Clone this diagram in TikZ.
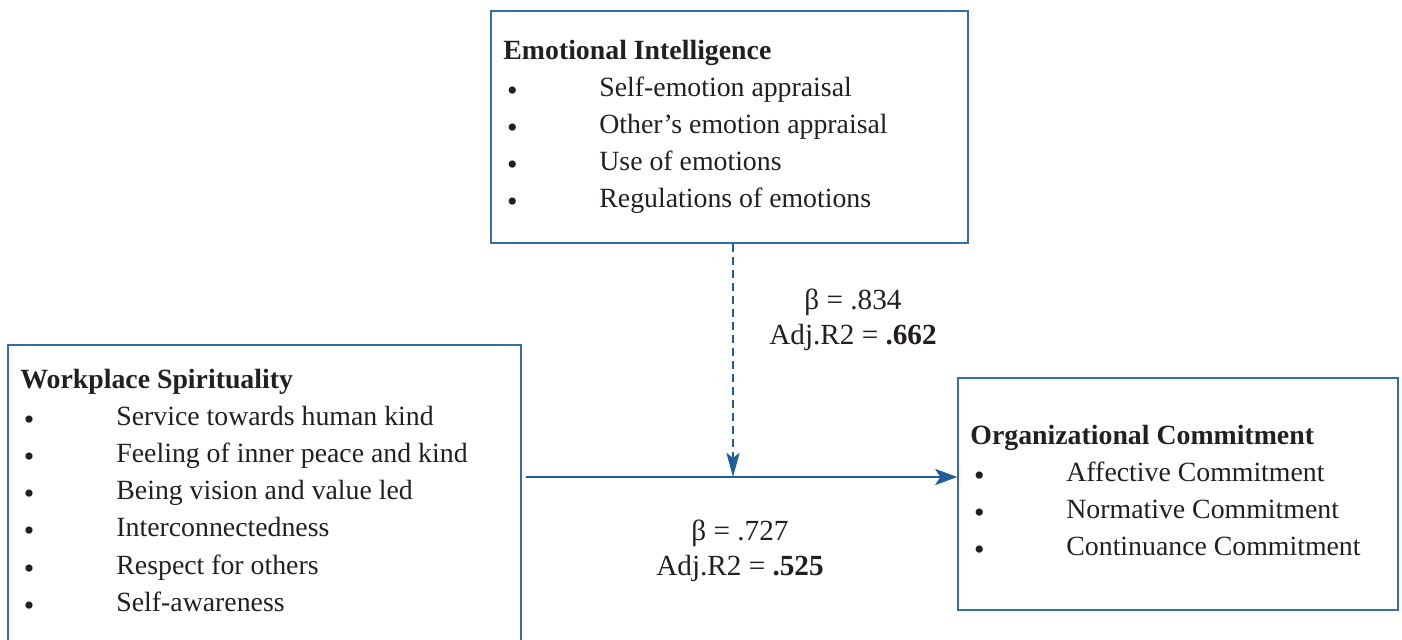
\documentclass[tikz,border=0pt]{standalone}
\usepackage{xcolor}
\usepackage{amsmath}
\usepackage{fontspec}
\setmainfont{Liberation Serif}
\usetikzlibrary{positioning, fit, calc, arrows.meta}
\definecolor{linkblue}{RGB}{31,94,153}
\definecolor{boxblue}{RGB}{52,110,165}
\definecolor{inkblack}{RGB}{35,31,32}
\newcommand{\blt}{\raisebox{-2pt}{\fontsize{15}{15}\selectfont\textbullet}}
\newcommand{\factorlist}[2]{%
  \begin{tabular}[t]{@{\hspace{1.8pt}}p{46.2pt}@{}l@{}}
    \multicolumn{2}{@{}l@{}}{\textbf{#1}}\\
    #2
  \end{tabular}}

\begin{document}
\begin{tikzpicture}[x=0.5pt, y=-0.5pt,
    every node/.style={text=inkblack},
    box/.style={draw=boxblue, line width=0.75pt, inner sep=0pt},
    listtext/.style={inner sep=0pt, anchor=base west, font=\fontsize{13.9}{18.6}\selectfont},
    stat/.style={align=center, inner sep=0pt, font=\fontsize{14.6}{17.5}\selectfont},
    mainarrow/.style={draw=linkblue, line width=1.35pt, -{Stealth[length=11pt, width=8pt, inset=2.5pt]}},
    modarrow/.style={mainarrow, dash pattern=on 4pt off 2.5pt, -{Stealth[length=12pt, width=6.5pt, inset=2.5pt]}}]
\useasboundingbox (0,0) rectangle (1402,639);

%% the three boxes
\node[box, fit={(491,11) (968,243)}] (ei) {};
\node[box, fit={(8,345) (521,665)}] (ws) {};
\node[box, fit={(958,378) (1398,610)}] (oc) {};

\node[listtext] (eilist) at (503,59) {\factorlist{Emotional Intelligence}{%
  \blt & Self-emotion appraisal\\
  \blt & Other’s emotion appraisal\\
  \blt & Use of emotions\\
  \blt & Regulations of emotions}};

\node[listtext] (wslist) at (20,388) {\factorlist{Workplace Spirituality}{%
  \blt & Service towards human kind\\
  \blt & Feeling of inner peace and kind\\
  \blt & Being vision and value led\\
  \blt & Interconnectedness\\
  \blt & Respect for others\\
  \blt & Self-awareness}};

\node[listtext] (oclist) at (970,444) {\factorlist{Organizational Commitment}{%
  \blt & Affective Commitment\\
  \blt & Normative Commitment\\
  \blt & Continuance Commitment}};

%% paths
\coordinate (meet) at (733,477);
\draw[mainarrow] ([xshift=2pt]ws.east |- meet) -- (oc.west |- meet);
\draw[modarrow] (ei.south -| meet) -- (meet);

\node[stat] (eistat) at (853,320) {β = .834\\ Adj.R2 = \textbf{.662}};
\node[stat] (wsstat) at (740,551) {β = .727\\ Adj.R2 = \textbf{.525}};
\end{tikzpicture}
\end{document}
